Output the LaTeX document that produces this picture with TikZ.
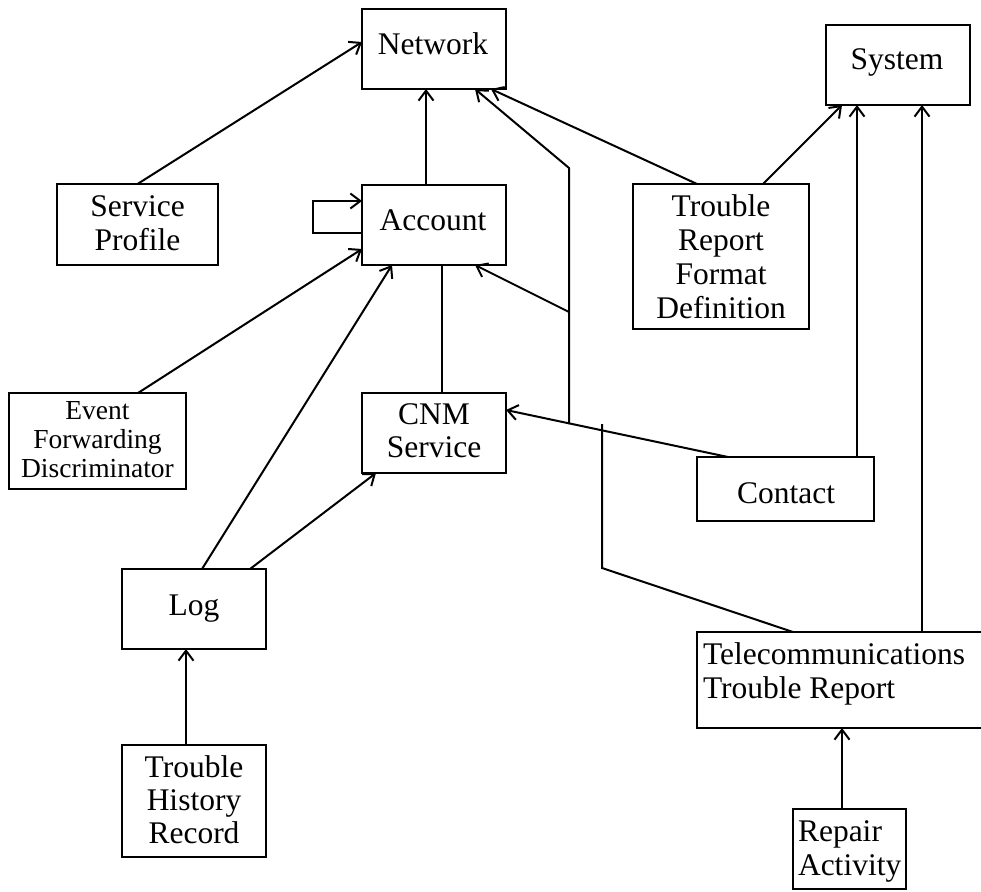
\documentclass[tikz,border=0pt]{standalone}
\usepackage{fontspec}
\setmainfont{Liberation Serif}
\usetikzlibrary{arrows.meta,calc}

\begin{document}
\begin{tikzpicture}[
  x=1pt, y=-1pt,
  line width=2pt,
  box/.style={draw, rectangle, inner sep=0pt, outer sep=0pt, line width=2pt},
  lbl/.style={inner sep=0pt, anchor=base, align=center,
              font=\fontsize{31.5}{34}\selectfont},
  lbll/.style={lbl, anchor=base west, align=left},
  small/.style={font=\fontsize{27.5}{29}\selectfont},
  tight/.style={font=\fontsize{31.5}{33}\selectfont},
  arr/.style={-{Straight Barb[length=10pt,width=15pt,line width=2pt]}},
  plain/.style={line join=miter}
]
\useasboundingbox (0,0) rectangle (981,891);

% class boxes
\node[box, minimum width=144pt, minimum height=80pt]  (net)  at (434,49)    {};
\node[box, minimum width=144pt, minimum height=80pt]  (sys)  at (898,65)    {};
\node[box, minimum width=144pt, minimum height=80pt]  (acc)  at (434,225)   {};
\node[box, minimum width=161pt, minimum height=81pt]  (sp)   at (137.5,224.5) {};
\node[box, minimum width=176pt, minimum height=145pt] (trfd) at (721,256.5) {};
\node[box, minimum width=177pt, minimum height=96pt]  (efd)  at (97.5,441)  {};
\node[box, minimum width=144pt, minimum height=80pt]  (cnm)  at (434,433)   {};
\node[box, minimum width=177pt, minimum height=64pt]  (con)  at (785.5,489) {};
\node[box, minimum width=144pt, minimum height=80pt]  (log)  at (194,609)   {};
\node[box, minimum width=144pt, minimum height=112pt] (thr)  at (194,801)   {};
\node[box, minimum width=286pt, minimum height=96pt]  (ttr)  at (840,680)   {};
\node[box, minimum width=113pt, minimum height=80pt]  (ra)   at (849.5,849) {};

% class names (multi-line labels sit on the baseline of their last line)
\node[lbl] (net-l)  at (433,54)    {Network};
\node[lbl] (sys-l)  at (897,70)    {System};
\node[lbl] (acc-l)  at (433,230)   {Account};
\node[lbl] (sp-l)   at (137.5,250) {Service\\Profile};
\node[lbl] (trfd-l) at (721,318)   {Trouble\\Report\\Format\\Definition};
\node[lbl,small] (efd-l) at (97.5,477) {Event\\Forwarding\\Discriminator};
\node[lbl,tight] (cnm-l) at (434,457) {CNM\\Service};
\node[lbl] (con-l)  at (786,503)   {Contact};
\node[lbl] (log-l)  at (194,615)   {Log};
\node[lbl,tight] (thr-l) at (194,843) {Trouble\\History\\Record};
\node[lbl, lbll] (ttr-l) at (702,698) {Telecommunications\\Trouble Report};
\node[lbl, lbll] (ra-l)  at (797,875) {Repair\\Activity};

% free bend points of the shared branches
\coordinate (jlow)  at (569,424);
\coordinate (jmid)  at (569,312);
\coordinate (jtop)  at (569,168);
\coordinate (kend)  at (602,424);
\coordinate (kbend) at (602,568);

% associations
\draw[arr] (sp.north) -- ($(net.north west)+(0,33)$);
\draw[arr] ($(acc.north west)+(64,0)$) -- ($(net.south west)+(64,0)$);
\draw[arr, plain] ($(acc.north west)+(0,48)$) -- ++(-49,0) |- ($(acc.north west)+(0,16)$);
\draw[arr] ($(efd.north west)+(129,0)$) -- ($(acc.north west)+(0,64)$);
\draw[arr] ($(log.north west)+(80,0)$) -- ($(acc.south west)+(30,0)$);
\draw[arr] ($(log.north west)+(128,0)$) -- ($(cnm.south west)+(14,0)$);
\draw ($(acc.south west)+(80,0)$) -- ($(cnm.north west)+(80,0)$);
\draw[arr] ($(thr.north west)+(64,0)$) -- ($(log.south west)+(64,0)$);
\draw[arr] ($(con.north west)+(31,0)$) -- ($(cnm.north east)+(0,17)$);
\draw[arr, plain] (jlow) -- (jtop) -- ($(net.south west)+(113,0)$);
\draw[arr] (jmid) -- ($(acc.south east)+(-31,0)$);
\draw[arr] ($(trfd.north west)+(64,0)$) -- ($(net.south east)+(-15,0)$);
\draw[arr] ($(trfd.north west)+(130,0)$) -- ($(sys.south west)+(16,0)$);
\draw[arr] ($(con.north east)+(-17,0)$) -- ($(sys.south west)+(31,0)$);
\draw[arr] ($(ttr.north west)+(225,0)$) -- ($(sys.south west)+(96,0)$);
\draw[plain] ($(ttr.north west)+(96,0)$) -- (kbend) -- (kend);
\draw[arr] ($(ra.north west)+(49,0)$) -- ($(ttr.south west)+(145,0)$);
\end{tikzpicture}
\end{document}
